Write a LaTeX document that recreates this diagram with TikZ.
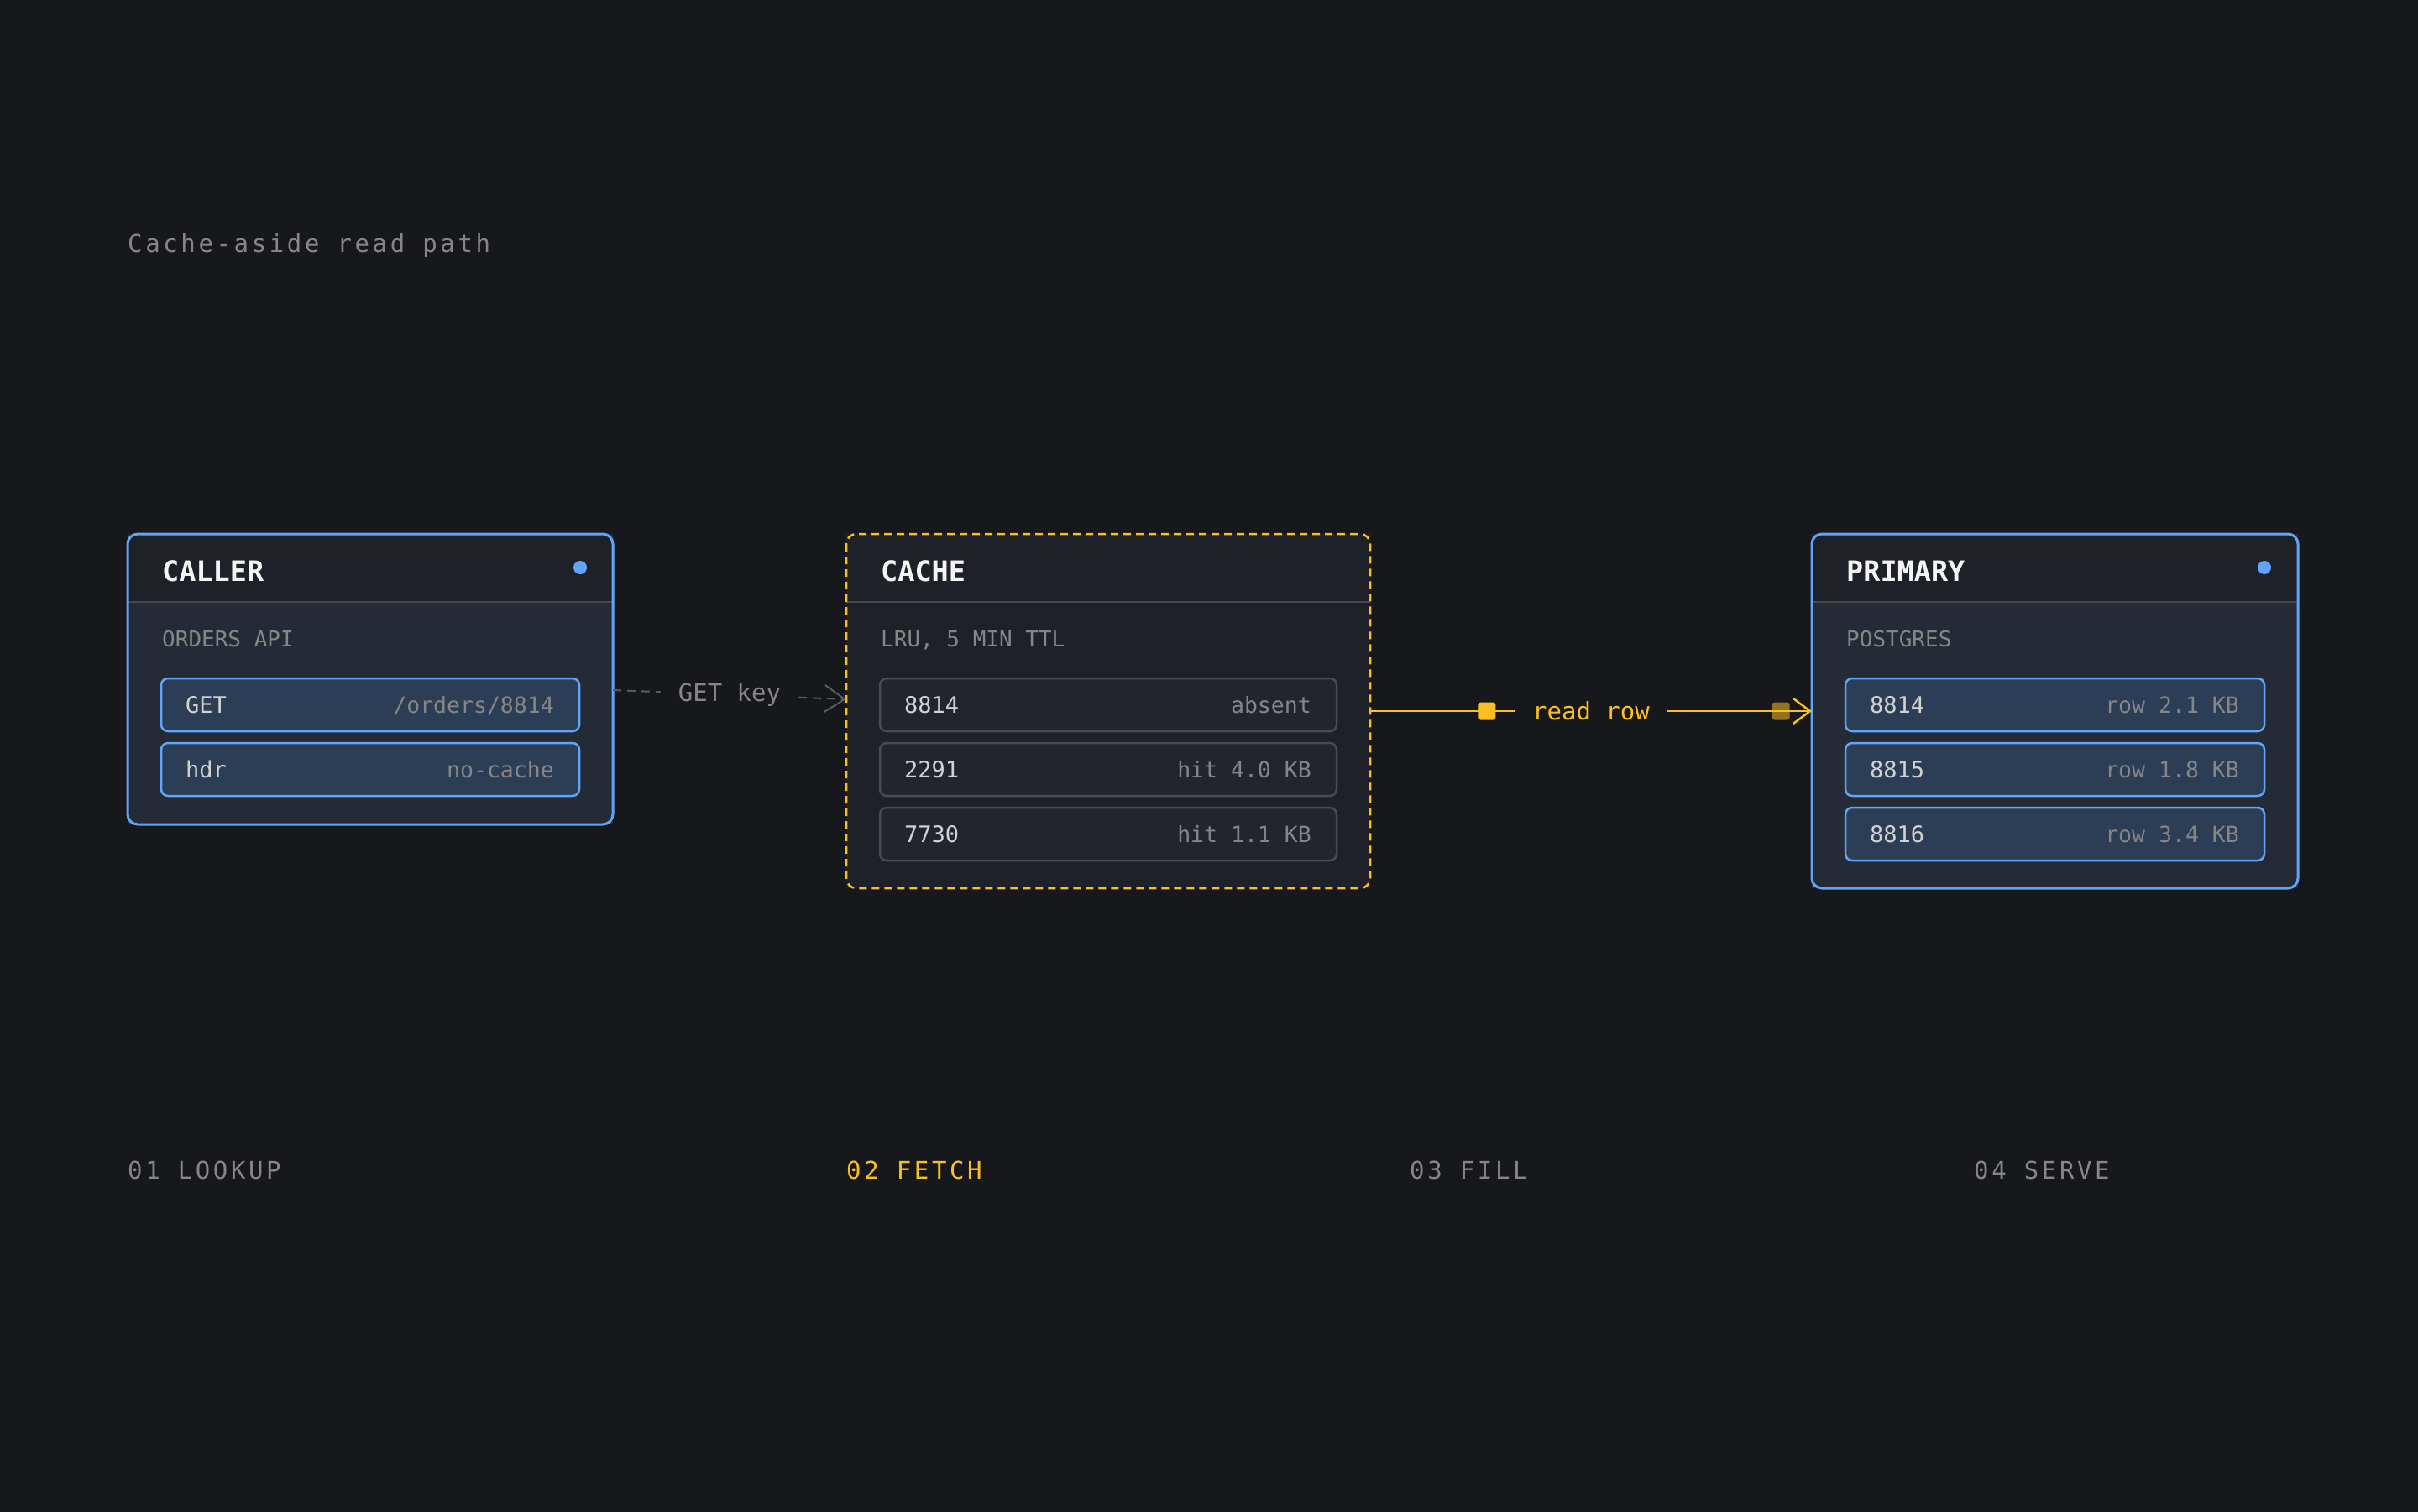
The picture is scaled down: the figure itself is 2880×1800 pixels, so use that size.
\documentclass[tikz,border=0pt]{standalone}
\usepackage{fontspec}
\setmonofont{DejaVu Sans Mono}
\newfontfamily\spacedmono[LetterSpace=12.5]{DejaVu Sans Mono}
\usetikzlibrary{arrows.meta,calc,positioning}
\definecolor{bg}{HTML}{16181C}
\definecolor{headfill}{HTML}{1F2128}
\definecolor{bluebody}{HTML}{242B37}
\definecolor{bluerowfill}{HTML}{2C3E56}
\definecolor{greyrowfill}{HTML}{22252B}
\definecolor{greyrowedge}{HTML}{4A4B50}
\definecolor{sepgrey}{HTML}{48494D}
\definecolor{edgeblue}{HTML}{60A5FA}
\definecolor{amber}{HTML}{FBBF24}
\definecolor{dimtext}{HTML}{868686}
\definecolor{keytextc}{HTML}{D2D2D2}
\definecolor{headtextc}{HTML}{F4F4F4}
\definecolor{getgrey}{HTML}{575A60}
\begin{document}
\begin{tikzpicture}[x=1pt,y=-1pt,
    panel/.style={rectangle,anchor=north west,outer sep=0pt,inner sep=0pt},
    bluerow/.style={rectangle,anchor=north west,outer sep=0pt,inner sep=0pt,rounded corners=8pt,
      minimum width=498pt,minimum height=63pt,fill=bluerowfill,draw=edgeblue,line width=2.5pt},
    greyrow/.style={rectangle,anchor=north west,outer sep=0pt,inner sep=0pt,rounded corners=8pt,
      minimum width=544pt,minimum height=63pt,fill=greyrowfill,draw=greyrowedge,line width=2.5pt},
    headtext/.style={anchor=base west,inner sep=0pt,text=headtextc,font=\ttfamily\bfseries\fontsize{33.5}{40}\selectfont},
    subtext/.style={anchor=base west,inner sep=0pt,text=dimtext,font=\ttfamily\fontsize{26}{32}\selectfont},
    keytext/.style={anchor=base west,inner sep=0pt,text=keytextc,font=\ttfamily\fontsize{27}{32}\selectfont},
    valtext/.style={anchor=base east,inner sep=0pt,text=dimtext,font=\ttfamily\fontsize{26.5}{32}\selectfont},
    dot/.style={circle,fill=edgeblue,inner sep=0pt,minimum size=16pt},
    marker/.style={rectangle,fill=amber,inner sep=0pt,minimum size=21pt,rounded corners=3pt},
    steplabel/.style={anchor=base west,inner sep=0pt,text=dimtext,font=\spacedmono\fontsize{29}{34}\selectfont},
    edgelabel/.style={fill=bg,inner xsep=21pt,inner ysep=6pt,font=\ttfamily\fontsize{29}{34}\selectfont}]
    \useasboundingbox (0,0) rectangle (2880,1800);
    \fill[bg] (-6,-6) rectangle (2886,1806);
    \node[steplabel] (title) at (152,300) {Cache-aside read path};

    \node[panel,fill=bluebody,minimum width=578pt,minimum height=346pt] (caller) at (152,636) {};
    \begin{scope}
      \clip[rounded corners=12pt] (caller.north west) rectangle (caller.south east);
      \fill[headfill] (caller.north west) rectangle ($(caller.north east)+(0,81)$);
    \end{scope}
    \draw[sepgrey,line width=2.5pt] ($(caller.north west)+(0,81)$) -- ($(caller.north east)+(0,81)$);
    \draw[edgeblue,line width=3pt,rounded corners=12pt] (caller.north west) rectangle (caller.south east);
    \node[headtext] (callername) at ($(caller.north west)+(41,56)$) {CALLER};
    \node[dot] (callerdot) at ($(caller.north east)+(-39,40)$) {};
    \node[subtext] (callersub) at ($(caller.north west)+(41,134)$) {ORDERS API};
    \node[bluerow] (get) at ($(caller.north west)+(40,172)$) {};
    \node[bluerow,below=14pt of get] (hdr) {};
    \node[keytext] at ($(get.west)+(29,10)$) {GET};
    \node[valtext] at ($(get.east)+(-30,10)$) {/orders/8814};
    \node[keytext] at ($(hdr.west)+(29,10)$) {hdr};
    \node[valtext] at ($(hdr.east)+(-30,10)$) {no-cache};

    \node[panel,fill=headfill,minimum width=624pt,minimum height=422pt] (cache) at (1008,636) {};
    \draw[sepgrey,line width=2.5pt] ($(cache.north west)+(0,81)$) -- ($(cache.north east)+(0,81)$);
    \draw[amber,line width=2.5pt,dash pattern=on 9pt off 6pt,rounded corners=12pt] (cache.north west) rectangle (cache.south east);
    \node[headtext] (cachename) at ($(cache.north west)+(41,56)$) {CACHE};
    \node[subtext] (cachesub) at ($(cache.north west)+(41,134)$) {LRU, 5 MIN TTL};
    \node[greyrow] (c8814) at ($(cache.north west)+(40,172)$) {};
    \node[greyrow,below=14pt of c8814] (c2291) {};
    \node[greyrow,below=14pt of c2291] (c7730) {};
    \node[keytext] at ($(c8814.west)+(29,10)$) {8814};
    \node[valtext] at ($(c8814.east)+(-30,10)$) {absent};
    \node[keytext] at ($(c2291.west)+(29,10)$) {2291};
    \node[valtext] at ($(c2291.east)+(-30,10)$) {hit 4.0 KB};
    \node[keytext] at ($(c7730.west)+(29,10)$) {7730};
    \node[valtext] at ($(c7730.east)+(-30,10)$) {hit 1.1 KB};

    \node[panel,fill=bluebody,minimum width=579pt,minimum height=422pt] (primary) at (2158,636) {};
    \begin{scope}
      \clip[rounded corners=12pt] (primary.north west) rectangle (primary.south east);
      \fill[headfill] (primary.north west) rectangle ($(primary.north east)+(0,81)$);
    \end{scope}
    \draw[sepgrey,line width=2.5pt] ($(primary.north west)+(0,81)$) -- ($(primary.north east)+(0,81)$);
    \draw[edgeblue,line width=3pt,rounded corners=12pt] (primary.north west) rectangle (primary.south east);
    \node[headtext] (primaryname) at ($(primary.north west)+(41,56)$) {PRIMARY};
    \node[dot] (primarydot) at ($(primary.north east)+(-40,40)$) {};
    \node[subtext] (primarysub) at ($(primary.north west)+(41,134)$) {POSTGRES};
    \node[bluerow,minimum width=499pt] (p8814) at ($(primary.north west)+(40,172)$) {};
    \node[bluerow,minimum width=499pt,below=14pt of p8814] (p8815) {};
    \node[bluerow,minimum width=499pt,below=14pt of p8815] (p8816) {};
    \node[keytext] at ($(p8814.west)+(29,10)$) {8814};
    \node[valtext] at ($(p8814.east)+(-30,10)$) {row 2.1 KB};
    \node[keytext] at ($(p8815.west)+(29,10)$) {8815};
    \node[valtext] at ($(p8815.east)+(-30,10)$) {row 1.8 KB};
    \node[keytext] at ($(p8816.west)+(29,10)$) {8816};
    \node[valtext] at ($(p8816.east)+(-30,10)$) {row 3.4 KB};

    \draw[getgrey,line width=2pt,dash pattern=on 10pt off 7pt,-{Straight Barb[length=24pt,width=32pt]}]
      ([yshift=-13pt]caller.east) -- node[edgelabel,text=dimtext] (getkey) {GET key} ([yshift=14pt]cache.west);
    \draw[amber,line width=2.5pt,-{Straight Barb[length=20pt,width=30pt]}]
      (cache.east) -- node[pos=0.264,marker] (fillstart) {}
      node[edgelabel,text=amber] (readrow) {read row}
      node[pos=0.93,marker,fill opacity=0.55] (fillend) {} (primary.west);

    \node[steplabel] (lookup) at (152,1404) {01 LOOKUP};
    \node[steplabel,text=amber] (fetch) at (1008,1404) {02 FETCH};
    \node[steplabel] (fill) at (1679,1404) {03 FILL};
    \node[steplabel] (serve) at (2351,1404) {04 SERVE};
\end{tikzpicture}
\end{document}
